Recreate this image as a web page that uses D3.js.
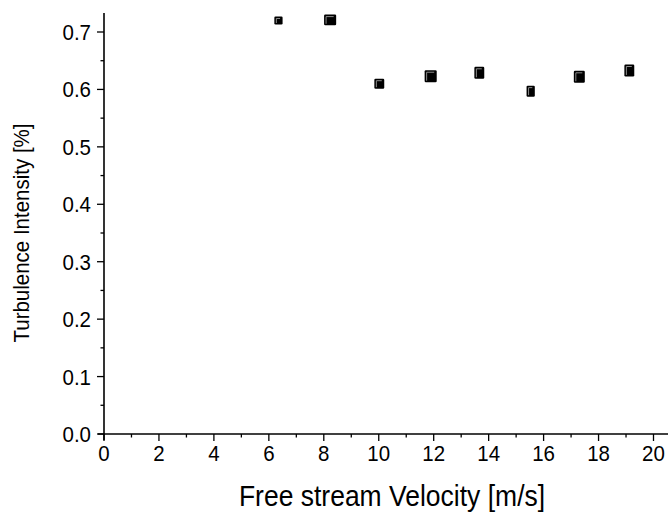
<!DOCTYPE html>
<html>
<head>
<meta charset="utf-8">
<script src="https://cdn.jsdelivr.net/npm/d3@7"></script>
<style>
  html, body { margin: 0; padding: 0; background: #fff; }
  svg { display: block; font-family: "Liberation Sans", Arial, sans-serif; }
</style>
</head>
<body>
<svg id="chart" width="671" height="512"></svg>
<script>
// Free stream velocity [m/s] and measured turbulence intensity [%]
const velocity   = [6.35, 8.23, 10.02, 11.89, 13.66, 15.53, 17.30, 19.12];
const intensity  = [0.720, 0.721, 0.610, 0.623, 0.629, 0.597, 0.622, 0.633];
// Half-widths of the uncertainty boxes
const velocityErr  = [0.15, 0.22, 0.18, 0.22, 0.18, 0.15, 0.20, 0.18];
const intensityErr = [0.007, 0.0093, 0.0087, 0.0104, 0.0104, 0.0096, 0.0104, 0.0104];

const xTicks = [0, 2, 4, 6, 8, 10, 12, 14, 16, 18, 20];
const yTicks = [0.0, 0.1, 0.2, 0.3, 0.4, 0.5, 0.6, 0.7];

const svg = d3.select("#chart");
const left = 104, bottom = 434;

const x = d3.scaleLinear().domain([0, 20]).range([left, 653.5]);
const y = d3.scaleLinear().domain([0, 0.7]).range([bottom, 32]);

const xMax = x.invert(668);
const yMax = y.invert(13);

// text is drawn slightly tall and narrow
const stretch = 1.12;

// x axis
const gx = svg.append("g").attr("transform", `translate(0,${bottom})`);
gx.append("line").attr("x1", left - 6).attr("x2", x(xMax)).attr("stroke", "#000").attr("stroke-width", 1.6);
gx.call(g => {
  const minor = d3.range(1, 21, 2);
  g.selectAll(".xminor").data(minor).join("line")
    .attr("x1", d => x(d)).attr("x2", d => x(d)).attr("y1", 0).attr("y2", 3.5)
    .attr("stroke", "#000").attr("stroke-width", 1.3);
  g.selectAll(".xmajor").data(xTicks).join("line")
    .attr("x1", d => x(d)).attr("x2", d => x(d)).attr("y1", 0).attr("y2", 7)
    .attr("stroke", "#000").attr("stroke-width", 1.3);
  g.selectAll(".xlab").data(xTicks).join("text")
    .attr("transform", d => `translate(${x(d)},19) scale(1,${stretch})`)
    .attr("dy", "0.35em")
    .attr("text-anchor", "middle").attr("font-size", 20.5)
    .text(d => d3.format("d")(d));
});

// y axis
const gy = svg.append("g").attr("transform", `translate(${left},0)`);
gy.append("line").attr("y1", y(yMax)).attr("y2", bottom + 6).attr("stroke", "#000").attr("stroke-width", 1.6);
gy.call(g => {
  const minor = d3.range(0.05, 0.75, 0.1);
  g.selectAll(".yminor").data(minor).join("line")
    .attr("x1", 0).attr("x2", -3.5).attr("y1", d => y(d)).attr("y2", d => y(d))
    .attr("stroke", "#000").attr("stroke-width", 1.3);
  g.selectAll(".ymajor").data(yTicks).join("line")
    .attr("x1", 0).attr("x2", -7).attr("y1", d => y(d)).attr("y2", d => y(d))
    .attr("stroke", "#000").attr("stroke-width", 1.3);
  g.selectAll(".ylab").data(yTicks).join("text")
    .attr("transform", d => `translate(-13,${y(d)}) scale(1,${stretch})`)
    .attr("dy", "0.35em")
    .attr("text-anchor", "end").attr("font-size", 20.5)
    .text(d => d3.format(".1f")(d));
});

// axis titles
svg.append("text")
  .attr("transform", `translate(392,506) scale(1,${stretch})`)
  .attr("text-anchor", "middle").attr("font-size", 26.5)
  .text("Free stream Velocity [m/s]");
svg.append("text")
  .attr("transform", `translate(29,${(y(0) + y(0.7)) / 2}) rotate(-90) scale(1,${stretch})`)
  .attr("text-anchor", "middle").attr("font-size", 20.5)
  .text("Turbulence Intensity [%]");

// data markers: boxes spanning the uncertainty in both directions
const pts = velocity.map((v, i) => ({ v, ti: intensity[i], dv: velocityErr[i], dti: intensityErr[i] }));
svg.append("g").selectAll("rect").data(pts).join("rect")
  .attr("x", d => x(d.v - d.dv))
  .attr("y", d => y(d.ti + d.dti))
  .attr("width", d => x(d.v + d.dv) - x(d.v - d.dv))
  .attr("height", d => y(d.ti - d.dti) - y(d.ti + d.dti))
  .attr("rx", 1.2)
  .attr("fill", "#000");
svg.append("g").selectAll("path").data(pts).join("path")
  .attr("d", d => {
    const x0 = x(d.v - d.dv) + 2, y0 = y(d.ti - d.dti) - 1.5, y1 = y(d.ti + d.dti) + 2, x1 = x(d.v + d.dv) - 2.5;
    return `M${x0},${y0}V${y1}H${x1}`;
  })
  .attr("fill", "none").attr("stroke", "#9a9a9a").attr("stroke-width", 0.9);
</script>
</body>
</html>
